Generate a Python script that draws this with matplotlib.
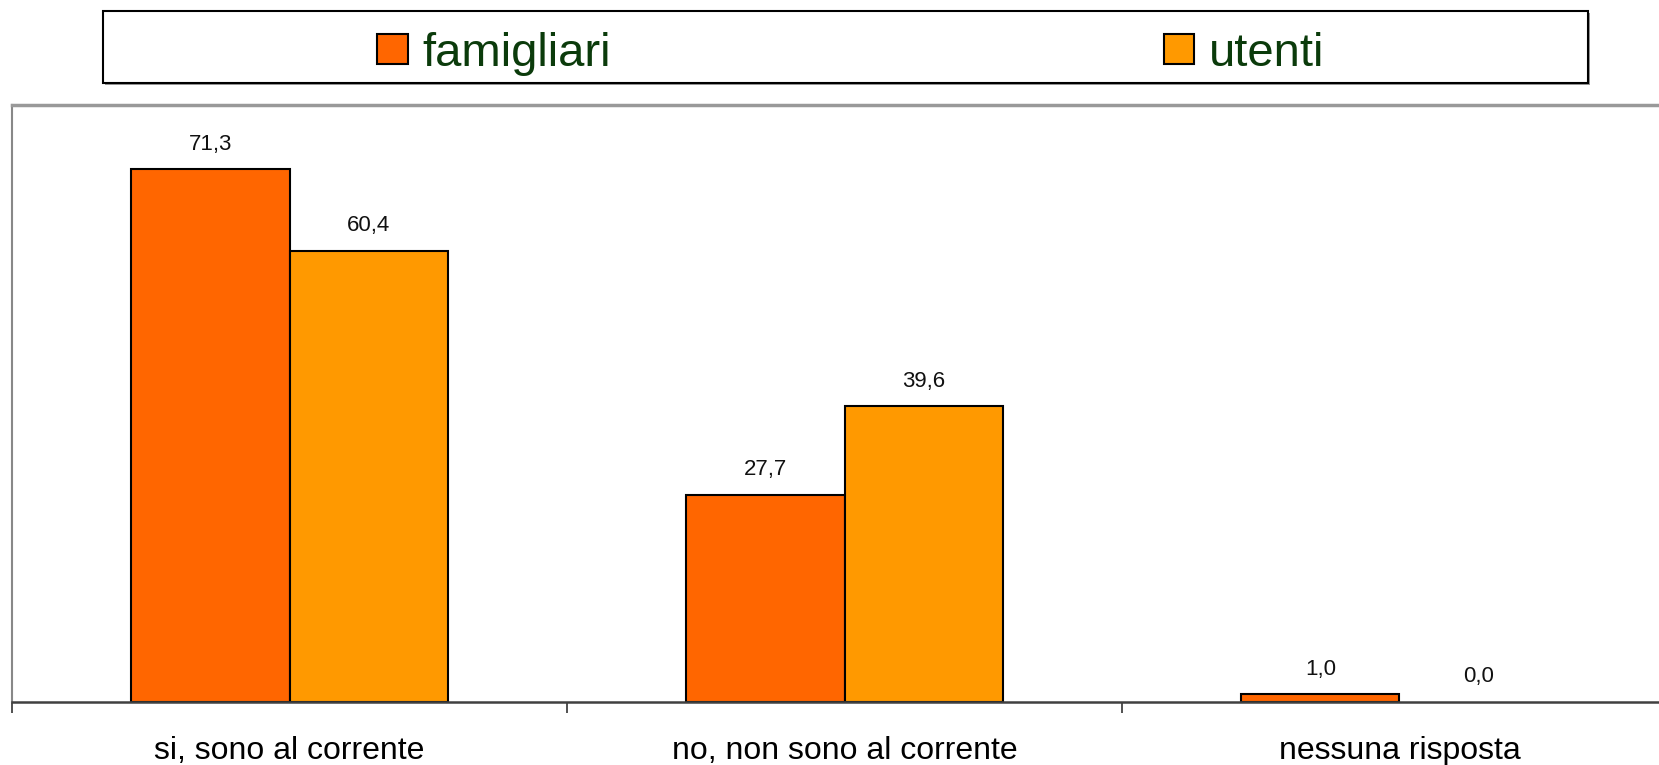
import matplotlib.pyplot as plt
import matplotlib.patches as mpatches
import numpy as np

plt.rcParams['font.family'] = ['Liberation Sans', 'DejaVu Sans']

# dati
categorie = ['si, sono al corrente', 'no, non sono al corrente', 'nessuna risposta']
famigliari = [71.3, 27.7, 1.0]
utenti = [60.4, 39.6, 0.0]
serie = ['famigliari', 'utenti']
colori = ['#FF6600', '#FF9900']

W, H = 1659, 765
fig = plt.figure(figsize=(W / 100, H / 100), dpi=100)

# area del grafico (si estende oltre il bordo destro come nell'originale)
ax = fig.add_axes([12 / W, 63.5 / H, 1665 / W, 597 / H])

x = np.arange(len(categorie))
w = 0.285
b1 = ax.bar(x - w / 2, famigliari, w, color=colori[0], edgecolor='black', linewidth=1.5, label=serie[0])
b2 = ax.bar(x + w / 2, utenti, w, color=colori[1], edgecolor='black', linewidth=1.5, label=serie[1])

# etichette dei valori con la virgola
for barre, valori in [(b1, famigliari), (b2, utenti)]:
    for r, v in zip(barre, valori):
        if v == 0:
            r.set_linewidth(0)  # barra vuota: nessun bordo
        ax.annotate(f"{v:.1f}".replace('.', ','),
                    (r.get_x() + r.get_width() / 2, r.get_height()),
                    xytext=(0, 14), textcoords='offset points',
                    ha='center', va='baseline', fontsize=16, color='#111111')

ax.set_xlim(-0.5, len(categorie) - 0.5)
ax.set_ylim(0, 80)
ax.set_yticks([])

# etichette categorie al centro, tacche ai confini
ax.set_xticks(x)
ax.set_xticklabels(categorie, fontsize=23)
ax.set_xticks(np.arange(len(categorie) + 1) - 0.5, minor=True)
ax.tick_params(axis='x', which='major', length=0, pad=25)
ax.tick_params(axis='x', which='minor', length=8, width=1.2, color='#333333', direction='out')

ax.spines['right'].set_visible(False)
ax.spines['left'].set_color('#888888')
ax.spines['left'].set_linewidth(1.5)
ax.spines['top'].set_color('#999999')
ax.spines['top'].set_linewidth(2.5)
ax.spines['bottom'].set_color('#404040')
ax.spines['bottom'].set_linewidth(1.8)

# riquadro della legenda con ombra
x0, y0, bw, bh = 103 / W, (H - 83) / H, 1485 / W, 72.5 / H
ombra = mpatches.Rectangle((x0 + 2 / W, y0 - 2 / H), bw, bh, transform=fig.transFigure,
                           facecolor='#999999', edgecolor='none', zorder=0)
box = mpatches.Rectangle((x0, y0), bw, bh, transform=fig.transFigure,
                         facecolor='white', edgecolor='black', linewidth=1.5, zorder=1)
fig.patches.extend([ombra, box])

leg = fig.legend(handles=[b1, b2], labels=serie, loc='center',
                 bbox_to_anchor=(851 / W, (H - 53.5) / H), ncol=2, frameon=False,
                 fontsize=34, handlelength=0.64, handleheight=0.6,
                 handletextpad=0.32, columnspacing=11.7, borderpad=0)
for t in leg.get_texts():
    t.set_color('#0B3B0B')
leg.set_zorder(5)

fig.savefig('out.png', dpi=100)
